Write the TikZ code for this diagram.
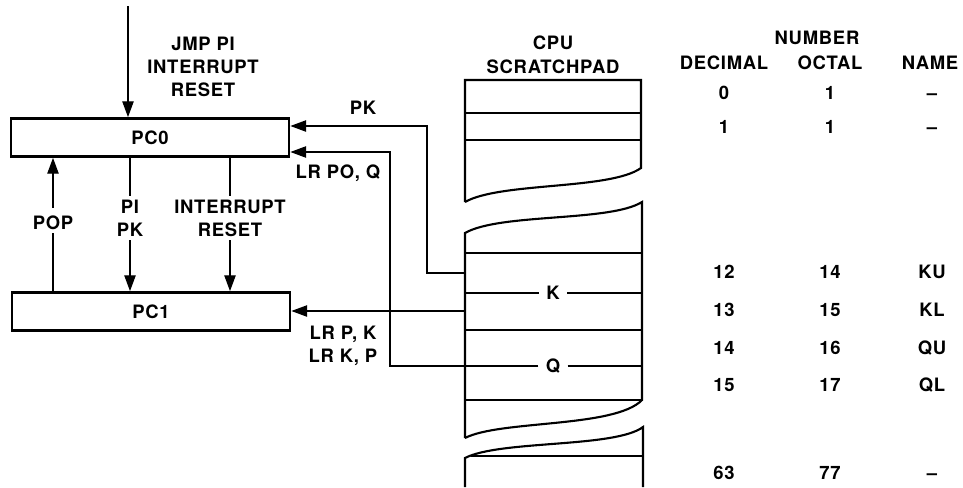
\documentclass[tikz,border=0pt]{standalone}
\usepackage{fontspec}
\setmainfont[LetterSpace=4]{TeX Gyre Heros}
\usetikzlibrary{arrows.meta, positioning}
\tikzset{
  lbl/.style={font=\fontsize{10.5}{13}\selectfont\bfseries, align=center, inner sep=2pt},
  reg/.style={lbl, draw, line width=1.6pt, minimum width=5.56cm, minimum height=0.76cm},
  sig/.style={-{Triangle[length=9pt,width=6.5pt]}, line width=0.7pt},
  pad/.style={line width=1.2pt},
}

\begin{document}
\begin{tikzpicture}[x=0.02cm, y=-0.02cm]
  \useasboundingbox (0,0) rectangle (963,487);
  % program counters
  \node[reg] (pc0) at (150,137.5) {PC0};
  \node[reg] (pc1) at (151,311.5) {PC1};
  \coordinate (top) at (128,6);
  \draw[sig] (top) -- (pc0.north -| top);
  \node[lbl] at (203,67) {JMP PI\\INTERRUPT\\RESET};
  \node[lbl] (pop) at (53,218) {\mbox{}\\POP};
  \node[lbl] (pipk) at (130,218) {PI\\PK};
  \node[lbl] (intr) at (230,218) {INTERRUPT\\RESET};
  \draw[line width=0.7pt] (pc1.north -| pop.south) -- (pop.south);
  \draw[sig] ([yshift=-0.1cm]pop.north) -- (pc0.south -| pop.north);
  \draw[line width=0.7pt] (pc0.south -| pipk.north) -- (pipk.north);
  \draw[sig] (pipk.south) -- (pc1.north -| pipk.south);
  \draw[line width=0.7pt] (pc0.south -| intr.north) -- (intr.north);
  \draw[sig] (intr.south) -- (pc1.north -| intr.south);
  % scratchpad
  \node[lbl] at (553,43) {CPU};
  \node[lbl] at (553,67) {SCRATCHPAD};
  \draw[pad] (465,202) -- (465,80) -- (641,80) -- (641,168)
    .. controls (610,190) and (500,182) .. (465,202);
  \draw[pad] (465,113) -- (641,113) (465,140) -- (641,140);
  \draw[pad] (465,438) -- (465,233) .. controls (500,213) and (610,222) .. (642,202)
    -- (642,400) .. controls (615,428) and (500,420) .. (465,438);
  \draw[pad] (465,253) -- (642,253) (465,330) -- (642,330) (465,400) -- (642,400);
  \draw[pad] (465,487) -- (465,458) .. controls (500,440) and (615,448) .. (643,427) -- (643,487);
  \draw[pad] (471,456) -- (643,456);
  \node[lbl, inner sep=4pt] (klab) at (553,293) {K};
  \node[lbl, inner sep=4pt] (qlab) at (553,366) {Q};
  \draw[pad] (465,293) -- (klab.west) (klab.east) -- (642,293);
  \draw[pad] (qlab.east) -- (642,366);
  % transfers
  \coordinate (kin) at (465,273);
  \coordinate (kpc) at (465,311);
  \draw[sig] (kin) -- ++(-38,0) |- ([yshift=0.23cm]pc0.east);
  \draw[sig] (qlab.west) -- (390,366) |- ([yshift=-0.29cm]pc0.east);
  \draw[sig] (kpc) -- (pc1.east |- kpc);
  \node[lbl] at (363,108) {PK};
  \node[lbl] at (338,173) {LR PO, Q};
  \node[lbl] at (343,346) {LR P, K\\LR K, P};
  % register table
  \node[lbl] at (817,38) {NUMBER};
  \node[lbl] at (724,63) {DECIMAL};
  \node[lbl] at (830,63) {OCTAL};
  \node[lbl] at (930,63) {NAME};
  \foreach \yy/\dec/\oct/\nm in {93/0/1/--, 127/1/1/--, 272/12/14/KU, 310/13/15/KL,
      348/14/16/QU, 385/15/17/QL, 473/63/77/--} {
    \node[lbl, anchor=base] at (724,\yy+6.5) {\dec};
    \node[lbl, anchor=base] at (830,\yy+6.5) {\oct};
    \node[lbl, anchor=base] at (932,\yy+6.5) {\nm};
  }
\end{tikzpicture}
\end{document}
